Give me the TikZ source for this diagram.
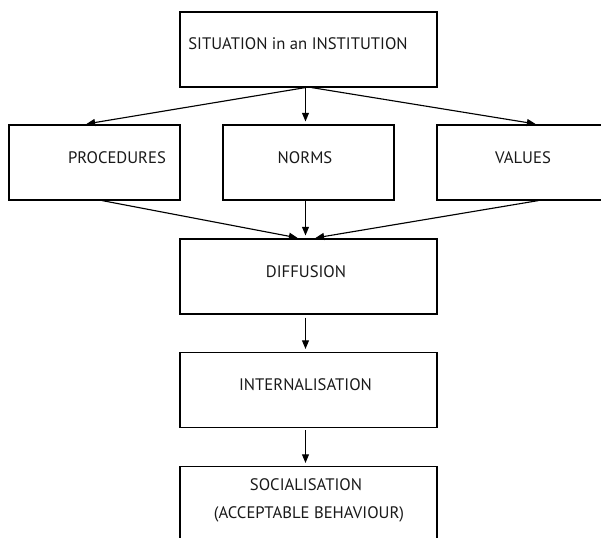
\documentclass[tikz,border=0pt]{standalone}
\usepackage{fontspec}
\setmainfont{PT Sans}
\usetikzlibrary{arrows.meta,calc}

\begin{document}
\begin{tikzpicture}[x=0.75pt,y=-0.75pt,>={Triangle[length=6.5pt,width=5.25pt]},
  every node/.style={font=\fontsize{12.5}{15}\selectfont,text=black!90},
  box/.style={draw,line width=0.85pt,minimum width=128.25pt,minimum height=56.25pt,inner sep=0pt},
  wide/.style={box,minimum width=192.75pt},
  txt/.style={inner sep=0pt,anchor=base},
  link/.style={->,line width=0.85pt,shorten >=2.25pt}]
  \useasboundingbox (0,0) rectangle (601,538);
  \clip (0,0) rectangle (601,538);
  % boxes
  \node[wide] (sit) at (308.5,49.5) {};
  \node[box] (proc) at (94.5,162.5) {};
  \node[box] (norms) at (308.5,162.5) {};
  \node[box] (vals) at (522.5,162.5) {};
  \node[wide] (diff) at (308.5,276.5) {};
  \node[wide] (intern) at (308.5,390) {};
  \node[wide] (soc) at (308.5,504) {};
  % texts
  \node[txt] (sittext) at (298,50) {SITUATION in an INSTITUTION};
  \node[txt] (proctext) at (117,164) {PROCEDURES};
  \node[txt] (normstext) at (305,164) {NORMS};
  \node[txt] (valstext) at (523,164) {VALUES};
  \node[txt] (difftext) at (306,277.5) {DIFFUSION};
  \node[txt] (interntext) at (305.5,391) {INTERNALISATION};
  \node[txt] (soctext) at (306,491) {SOCIALISATION};
  \node[txt] (soctext2) at (309,518.5) {(ACCEPTABLE BEHAVIOUR)};
  % arrows
  \draw[link] ($(sit.south)+(-3,0)$) -- ($(proc.north)+(-11,0)$);
  \draw[link] ($(sit.south)+(-3,0)$) -- ($(norms.north)+(-3,0)$);
  \draw[link] ($(sit.south)+(3,0)$) -- ($(vals.north)+(16,0)$);
  \draw[link] ($(proc.south)+(7.5,0)$) -- ($(diff.north)+(-8,0)$);
  \draw[link] ($(norms.south)+(-3,0)$) -- ($(diff.north)+(-3,0)$);
  \draw[link] ($(vals.south)+(16,0)$) -- ($(diff.north)+(4,0)$);
  \draw[link,shorten <=2.25pt] ($(diff.south)+(-3,0)$) -- ($(intern.north)+(-3,0)$);
  \draw[link,shorten <=1.5pt] ($(intern.south)+(-3,0)$) -- ($(soc.north)+(-3,0)$);
\end{tikzpicture}
\end{document}
